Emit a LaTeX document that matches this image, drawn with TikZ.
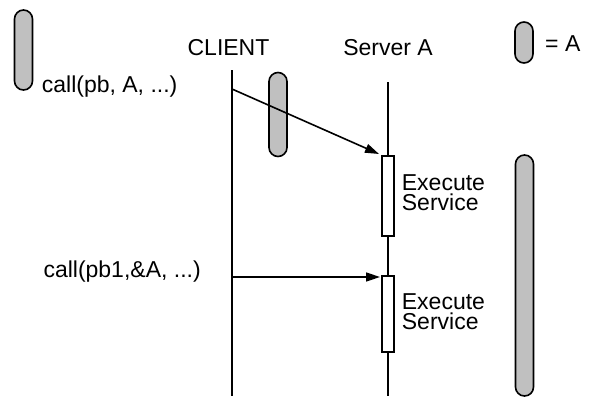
\documentclass[tikz,border=0pt]{standalone}
\usepackage{fontspec}
\setmainfont{Liberation Sans}
\usetikzlibrary{arrows.meta}
\definecolor{pillgray}{RGB}{192,192,192}
\begin{document}
\begin{tikzpicture}[x=1pt,y=-1pt,
  pill/.style={draw=black,line width=1.6pt,fill=pillgray,rounded corners=9pt,minimum width=18pt,inner sep=0pt},
  life/.style={line width=1.6pt},
  actbox/.style={draw=black,line width=1.6pt,fill=white,minimum width=12pt,inner sep=0pt},
  msg/.style={line width=1.6pt,-{Triangle[length=14pt,width=9pt]}},
  lbl/.style={font=\fontsize{23}{19.5}\selectfont,inner sep=0pt},
]
\useasboundingbox (0,0) rectangle (591,399);
% pills
\node[pill,minimum height=80pt] (p1) at (23.5,50) {};
\node[pill,minimum height=84pt] (p2) at (278,114.5) {};
\node[pill,minimum height=41pt] (p3) at (524,42.5) {};
\node[pill,minimum height=241pt] (p4) at (524.5,275.5) {};
% headings
\node[lbl,anchor=base] (client) at (228.5,55) {CLIENT};
\node[lbl,anchor=base] (server) at (388,55) {Server A};
\node[lbl,anchor=base west] (eqA) at (545,51.7) {= A};
% lifelines
\coordinate (ctop) at (232,70);
\coordinate (cbot) at (232,396);
\coordinate (stop) at (388,82);
\coordinate (sbot) at (388,396);
\node[actbox,minimum height=80pt] (b1) at (388,196) {};
\node[actbox,minimum height=76pt] (b2) at (388,314) {};
\draw[life] (ctop) -- (cbot);
\draw[life] (stop) -- (b1.north);
\draw[life] (b1.south) -- (b2.north);
\draw[life] (b2.south) -- (sbot);
% messages
\coordinate (m1s) at (232,89);
\coordinate (m1e) at (379,154);
\coordinate (m2s) at (232,277);
\coordinate (m2e) at (380,277);
\draw[msg] (m1s) -- (m1e);
\draw[msg] (m2s) -- (m2e);
% labels
\node[lbl,anchor=base west] (c1) at (41.7,92) {call(pb, A, ...)};
\node[lbl,anchor=base west] (c2) at (43.3,277) {call(pb1,\&A, ...)};
\node[lbl,anchor=base west,align=left] (e1) at (401.7,210) {Execute\\Service};
\node[lbl,anchor=base west,align=left] (e2) at (401.7,329.3) {Execute\\Service};
\end{tikzpicture}
\end{document}
